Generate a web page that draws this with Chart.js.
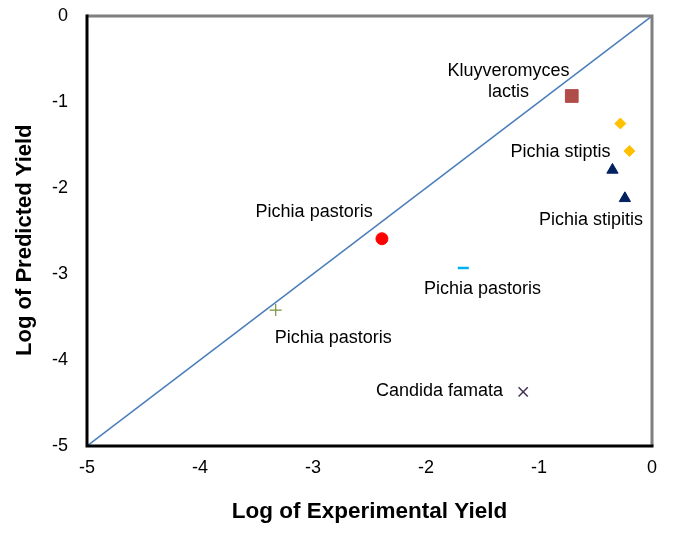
<!DOCTYPE html>
<html>
<head>
<meta charset="utf-8">
<script src="https://cdn.jsdelivr.net/npm/chart.js@4"></script>
<style>
  html, body { margin: 0; padding: 0; background: #fff; }
  #wrap { width: 685px; height: 537px; }
</style>
</head>
<body>
<div id="wrap"><canvas id="chart" width="685" height="537"></canvas></div>
<script>
// species points (log experimental, log predicted)
const kluyveromyces = [{x: -0.71, y: -0.93}];
const stiptis = [{x: -0.28, y: -1.25}, {x: -0.20, y: -1.57}];
const stipitis = [{x: -0.35, y: -1.79}, {x: -0.24, y: -2.12}];
const pastorisA = [{x: -2.39, y: -2.59}];
const pastorisB = [{x: -1.67, y: -2.93}];
const pastorisC = [{x: -3.33, y: -3.42}];
const famata = [{x: -1.14, y: -4.37}];
const parityLine = [{x: -5, y: -5}, {x: 0, y: 0}];

const axisMin = -5;
const axisMax = 0;

// text labels, anchored in data units
const labelTexts = [['Kluyveromyces', 'lactis'], ['Pichia stiptis'], ['Pichia stipitis'],
  ['Pichia pastoris'], ['Pichia pastoris'], ['Pichia pastoris'], ['Candida famata']];
const labelX = [-1.27, -0.81, -0.54, -2.99, -1.50, -2.82, -1.88];
const labelY = [-0.76, -1.58, -2.37, -2.28, -3.17, -3.74, -4.36];

const FONT = '"Liberation Sans", Arial, sans-serif';

function pointSet(data, style, color, radius, bw) {
  return {
    type: 'scatter',
    data: data,
    pointStyle: style,
    pointRadius: radius,
    pointHoverRadius: radius,
    backgroundColor: color,
    borderColor: color,
    borderWidth: bw
  };
}

const labelPlugin = {
  id: 'labels',
  afterDatasetsDraw(chart) {
    const ctx = chart.ctx;
    const xs = chart.scales.x, ys = chart.scales.y;
    ctx.save();
    ctx.font = '18px ' + FONT;
    ctx.fillStyle = '#000';
    ctx.textAlign = 'center';
    ctx.textBaseline = 'middle';
    labelTexts.forEach((lines, i) => {
      const px = xs.getPixelForValue(labelX[i]);
      const py = ys.getPixelForValue(labelY[i]);
      const lh = 21;
      lines.forEach((t, j) => {
        ctx.fillText(t, px, py + (j - (lines.length - 1) / 2) * lh);
      });
    });
    ctx.restore();
  }
};

const framePlugin = {
  id: 'frame',
  afterDraw(chart) {
    const {left, right, top, bottom} = chart.chartArea;
    const ctx = chart.ctx;
    ctx.save();
    ctx.lineWidth = 3;
    ctx.strokeStyle = '#7f7f7f';
    ctx.beginPath();
    ctx.moveTo(left, top);
    ctx.lineTo(right, top);
    ctx.lineTo(right, bottom);
    ctx.stroke();
    ctx.strokeStyle = '#000';
    ctx.beginPath();
    ctx.moveTo(left, top - 1.5);
    ctx.lineTo(left, bottom);
    ctx.lineTo(right + 1.5, bottom);
    ctx.stroke();
    ctx.restore();
  }
};

new Chart(document.getElementById('chart'), {
  type: 'scatter',
  data: {
    datasets: [
      {
        type: 'line',
        data: parityLine,
        borderColor: '#4a7ebb',
        borderWidth: 1.5,
        pointRadius: 0,
        fill: false
      },
      pointSet(kluyveromyces, 'rect', '#b04c49', 9, 1),
      pointSet(stiptis, 'rectRot', '#ffc000', 5.5, 1),
      pointSet(stipitis, 'triangle', '#002060', 6.5, 1),
      pointSet(pastorisA, 'circle', '#ff0000', 6, 1),
      pointSet(pastorisB, 'line', '#00b0f0', 5.5, 2.5),
      pointSet(pastorisC, 'cross', '#77933c', 6, 1.2),
      pointSet(famata, 'crossRot', '#403152', 6.5, 1.5)
    ]
  },
  options: {
    responsive: false,
    animation: false,
    layout: { padding: { left: 0, top: 16, right: 33, bottom: 0 } },
    plugins: { legend: { display: false }, tooltip: { enabled: false } },
    scales: {
      x: {
        type: 'linear',
        min: axisMin,
        max: axisMax,
        ticks: { stepSize: 1, padding: 11, color: '#000', font: { family: FONT, size: 18 } },
        grid: { display: false, drawTicks: false },
        border: { display: false },
        title: { display: true, text: 'Log of Experimental Yield', color: '#000',
          font: { family: FONT, size: 22.5, weight: 'bold' }, padding: { top: 0, bottom: 12 } },
        afterFit(s) { s.height = 91; }
      },
      y: {
        type: 'linear',
        min: axisMin,
        max: axisMax,
        ticks: { stepSize: 1, padding: 19, color: '#000', font: { family: FONT, size: 18 } },
        grid: { display: false, drawTicks: false },
        border: { display: false },
        title: { display: true, text: 'Log of Predicted Yield   ', color: '#000',
          font: { family: FONT, size: 22, weight: 'bold' }, padding: { top: 12, bottom: 0 } },
        afterFit(s) { s.width = 87; s.paddingTop = 0; s.paddingBottom = 0; }
      }
    }
  },
  plugins: [labelPlugin, framePlugin]
});
</script>
</body>
</html>
